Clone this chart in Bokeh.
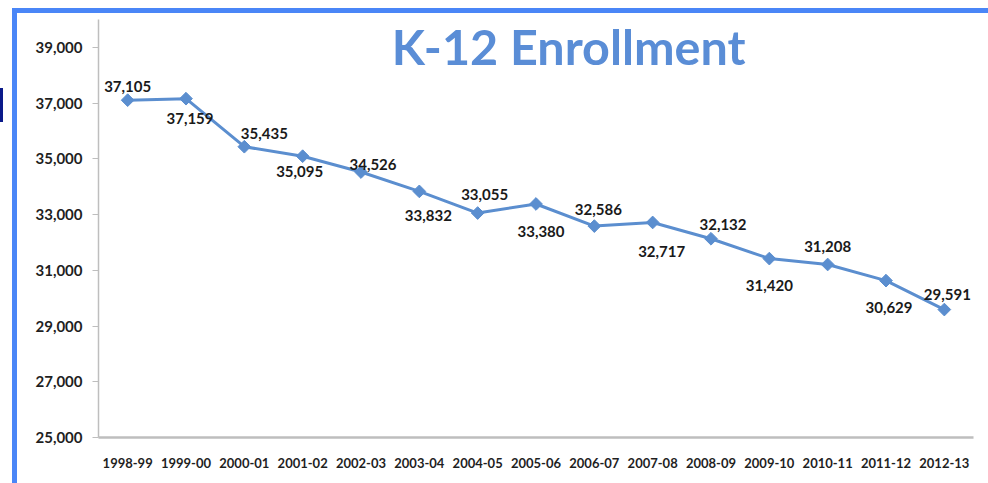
from bokeh.plotting import figure
from bokeh.models import ColumnDataSource, Label, FixedTicker, NumeralTickFormatter, Range1d
from bokeh.core.properties import value
from bokeh.embed import file_html
from bokeh.resources import INLINE
import math

years = ["1998-99", "1999-00", "2000-01", "2001-02", "2002-03", "2003-04", "2004-05",
         "2005-06", "2006-07", "2007-08", "2008-09", "2009-10", "2010-11", "2011-12", "2012-13"]
enrollment = [37105, 37159, 35435, 35095, 34526, 33832, 33055,
              33380, 32586, 32717, 32132, 31420, 31208, 30629, 29591]
y_ticks = [25000, 27000, 29000, 31000, 33000, 35000, 37000, 39000]
title_text = "K-12 Enrollment"

# label placement (pixels) for each data label
label_dx = [0, 4, 20, -3, 12, 9, 7, 5, 4, 9, 12, 0, 0, 3, 3]
label_dy = [-14, 20, -13, 15, -8, 24, -19, 28, -17, 29, -14, 27, -18, 27, -15]

src = ColumnDataSource(dict(
    x=years, y=enrollment,
    lbl=[f"{v:,}" for v in enrollment],
    dx=label_dx, dy=label_dy,
))

FONT = "Lato"
BLUE = "#5B8ECF"
FRAME_BLUE = "#4A86F7"

p = figure(x_range=years, y_range=Range1d(25000, 40000),
           width=988, height=483, output_backend="svg", toolbar_location=None,
           min_border_left=98, min_border_right=15, min_border_top=19, min_border_bottom=46)
p.outline_line_color = None
p.xgrid.grid_line_color = None
p.ygrid.grid_line_color = None
p.background_fill_color = "white"
p.border_fill_color = None

# slide frame lines drawn as CSS backgrounds on the plot host element
g = f"linear-gradient({FRAME_BLUE},{FRAME_BLUE})"
gd = "linear-gradient(#0A1A8A,#0A1A8A)"
p.styles = {
    "background-color": "white",
    "background-image": f"{g}, {g}, {gd}",
    "background-size": "976px 5px, 5px 475px, 3px 34px",
    "background-position": "12px 8px, 12px 8px, 0px 88px",
    "background-repeat": "no-repeat",
}

p.line("x", "y", source=src, line_color=BLUE, line_width=3)
p.scatter("x", "y", source=src, marker="square", angle=math.pi / 4, size=9,
          fill_color=BLUE, line_color=BLUE)
p.text("x", "y", text="lbl", source=src, x_offset="dx", y_offset="dy",
       text_align="center", text_baseline="middle",
       text_font=value(FONT), text_font_style="bold", text_font_size="15px",
       text_color="#1a1a1a")

# axes
p.yaxis.ticker = FixedTicker(ticks=y_ticks)
p.yaxis.formatter = NumeralTickFormatter(format="0,0")
for ax in (p.xaxis[0], p.yaxis[0]):
    ax.axis_line_color = "#BEBEBE"
    ax.major_label_text_font = FONT
    ax.major_label_text_font_style = "bold"
    ax.major_label_text_color = "#1f1f1f"
    ax.minor_tick_line_color = None
p.xaxis.axis_line_width = 2.5
p.yaxis.axis_line_width = 1.5
p.yaxis.major_tick_line_color = "#BEBEBE"
p.yaxis.major_tick_out = 6
p.yaxis.major_tick_in = 0
p.yaxis.major_label_text_font_size = "15px"
p.yaxis.major_label_standoff = 10
p.xaxis.major_tick_line_color = None
p.xaxis.major_label_text_font_size = "13px"
p.xaxis.major_label_standoff = 14

# title
p.add_layout(Label(x=8.06, y=39040, text=title_text, text_align="center",
                   text_baseline="alphabetic", text_font=FONT, text_font_style="bold",
                   text_font_size="48.5px", text_color="#5A8DD6"))

open("out.html", "w").write(file_html(p, INLINE))
